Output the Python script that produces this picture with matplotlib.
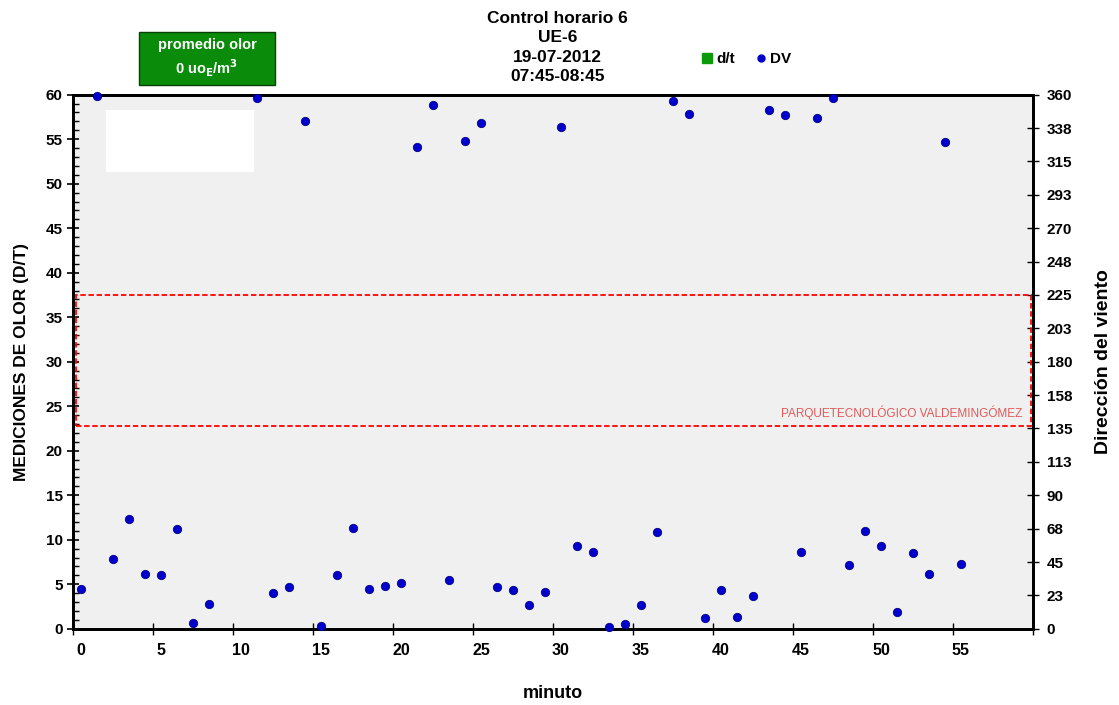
"""
Control horario 6 - UE-6: olor (D/T) y direccion del viento por minuto"""

import matplotlib.pyplot as plt
from matplotlib.lines import Line2D
from matplotlib.patches import Rectangle

# minutes with a wind direction reading, and the reading (degrees)
dv_minutes = [0, 1, 2, 3, 4, 5, 6, 7, 8, 11, 12, 13, 14, 15, 16, 17, 18, 19,
              20, 21, 22, 23, 24, 25, 26, 27, 28, 29, 30, 31, 32, 33, 34, 35,
              36, 37, 38, 39, 40, 41, 42, 43, 44, 45, 46, 47, 48, 49, 50, 51,
              52, 53, 54, 55]
dv_values = [27, 359, 47, 74, 37, 36, 67, 4, 17, 358, 24, 28, 342, 2, 36, 68,
             27, 29, 31, 325, 353, 33, 329, 341, 28, 26, 16, 25, 338, 56, 52,
             1, 3, 16, 65, 356, 347, 7, 26, 8, 22, 350, 346, 52, 344, 358, 43,
             66, 56, 11, 51, 37, 328, 44]

# odour readings (none in this hour)
dt_minutes = []
dt_values = []

x_ticks = [0, 5, 10, 15, 20, 25, 30, 35, 40, 45, 50, 55]
y_ticks = [0, 5, 10, 15, 20, 25, 30, 35, 40, 45, 50, 55, 60]
dir_ticks = [0, 22.5, 45, 67.5, 90, 112.5, 135, 157.5, 180, 202.5, 225,
             247.5, 270, 292.5, 315, 337.5, 360]
dir_labels = ['0', '23', '45', '68', '90', '113', '135', '158', '180', '203',
              '225', '248', '270', '293', '315', '338', '360']
sector = (137, 225)  # wind sector from the Parque Tecnologico

plt.rcParams['font.family'] = ['Liberation Sans', 'DejaVu Sans']
plt.rcParams['font.weight'] = 'bold'

fig = plt.figure(figsize=(11.19, 7.05), dpi=100)
ax = fig.add_axes([0.0652, 0.1081, 0.8579, 0.7576])
ax.set_facecolor('#f0f0f0')
ax2 = ax.twinx()

ax.plot(dt_minutes, dt_values, 's', color='#0a9a0a')
ax2.plot(dv_minutes, dv_values, 'o', color='#0000cc', markeredgecolor='#00008a',
         markersize=6, markeredgewidth=0.6, clip_on=False, zorder=5)

ax.set_xlim(-0.5, 59.5)
ax.set_ylim(0, 60)
ax2.set_ylim(0, 360)

ax.set_xticks(x_ticks)
ax.set_xticks([-0.5 + 5 * k for k in range(13)], minor=True)
ax.tick_params(axis='x', which='major', length=0, labelsize=11.5, pad=10)
ax.tick_params(axis='x', which='minor', length=8, width=1, direction='inout')
ax.set_yticks(y_ticks)
ax.set_yticks(range(61), minor=True)
ax.tick_params(axis='y', which='major', length=8, width=1.2, direction='inout',
               labelsize=11)
ax.tick_params(axis='y', which='minor', length=4, width=1, direction='in')
ax2.set_yticks(dir_ticks)
ax2.set_yticklabels(dir_labels)
ax2.tick_params(axis='y', length=8, width=1, direction='inout', labelsize=11,
                pad=6)

for a in (ax, ax2):
    for s in a.spines.values():
        s.set_linewidth(2)

ax.set_xlabel('minuto', fontsize=13, fontweight='bold', labelpad=20)
ax.set_ylabel('MEDICIONES DE OLOR (D/T)', fontsize=12.5, fontweight='bold',
              labelpad=12)
ax2.set_ylabel('Dirección del viento', fontsize=14, fontweight='bold',
               labelpad=16)

# sector of the Parque Tecnologico, dashed red box
ax2.add_patch(Rectangle((0.003, sector[0]), 0.995, sector[1] - sector[0],
                        transform=ax2.get_yaxis_transform(), fill=False,
                        edgecolor='#ff0000', linestyle=(0, (3, 1.5)),
                        linewidth=1.3, zorder=3))
ax2.text(0.989, sector[0] + 4, 'PARQUETECNOLÓGICO VALDEMINGÓMEZ',
         transform=ax2.get_yaxis_transform(), ha='right', va='bottom',
         fontsize=8.5, fontweight='normal', color='#e05a5a')

# blank box top-left
ax.add_patch(Rectangle((0.034, 0.856), 0.155, 0.116, transform=ax.transAxes,
                       facecolor='white', edgecolor='none', zorder=4))

fig.text(0.498, 0.985, 'Control horario 6\nUE-6\n19-07-2012\n07:45-08:45',
         ha='center', va='top', fontsize=12.5, linespacing=1.38)

# green summary box
fig.patches.append(Rectangle((0.1242, 0.8794), 0.1215, 0.0752,
                             transform=fig.transFigure, facecolor='#0a8c0a',
                             edgecolor='#064006', linewidth=1))
fig.text(0.185, 0.917, 'promedio olor\n0 uo$_\\mathbf{E}$/m$^\\mathbf{3}$',
         ha='center', va='center', fontsize=10.5, color='white',
         linespacing=1.3)

handles = [Line2D([], [], marker='s', linestyle='none', color='#0a9a0a',
                  markersize=7),
           Line2D([], [], marker='o', linestyle='none', color='#0000cc',
                  markersize=5)]
fig.legend(handles, ['d/t', 'DV'], loc='center', bbox_to_anchor=(0.666, 0.916),
           ncol=2, frameon=False, fontsize=11, handletextpad=0.1,
           columnspacing=1.2, handlelength=1)

fig.savefig('out.png', dpi=100)
